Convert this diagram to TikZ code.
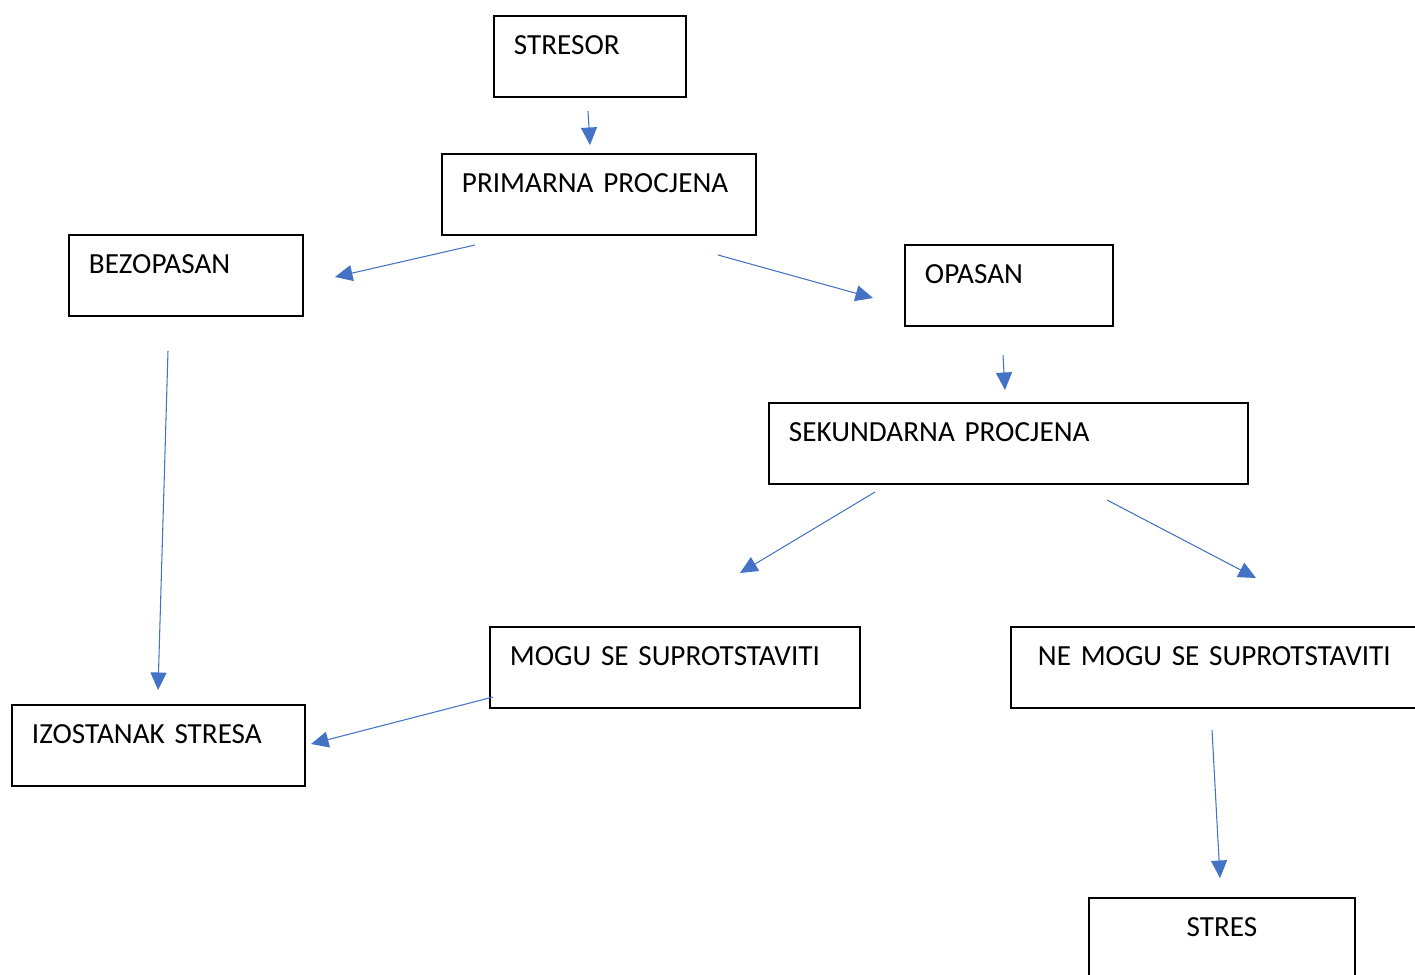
\documentclass[tikz,border=0pt]{standalone}
\usepackage{fontspec}
\setmainfont{Carlito}[WordSpace=0.75]
\usetikzlibrary{arrows.meta}
\definecolor{arrowblue}{HTML}{4472C4}
\tikzset{
  procbox/.style={draw=black, line width=1.1pt, anchor=north west, inner xsep=0.4cm, inner ysep=0pt,
    text height=0.78cm, text depth=0.84cm, align=left, font=\fontsize{16.6}{20}\selectfont},
  flowarrow/.style={draw=arrowblue, line width=0.6pt, -{Triangle[length=0.35cm,width=0.32cm]}}
}

\begin{document}
\begin{tikzpicture}[x=0.02cm,y=-0.02cm]
  \useasboundingbox (0,0) rectangle (1415,974);

  % Boxes
  \node[procbox, text width=3.04cm] (stresor) at (493,15) {STRESOR};
  \node[procbox, text width=5.48cm] (primarna) at (441,153) {PRIMARNA PROCJENA};
  \node[procbox, text width=3.88cm] (bezopasan) at (68,234) {BEZOPASAN};
  \node[procbox, text width=3.36cm] (opasan) at (904,244) {OPASAN};
  \node[procbox, text width=8.78cm] (sekundarna) at (768,402) {SEKUNDARNA PROCJENA};
  \node[procbox, text width=6.6cm] (mogu) at (489,626) {MOGU SE SUPROTSTAVITI};
  \node[procbox, text width=7.6cm] (nemogu) at (1010,626) {\hspace{0.14cm}NE MOGU SE SUPROTSTAVITI};
  \node[procbox, text width=5.06cm] (izostanak) at (11,704) {IZOSTANAK STRESA};
  \node[procbox, text width=4.52cm, align=center, text depth=1.3cm] (stres) at (1088,897) {STRES};

  % Arrow ends
  \coordinate (A1) at (588,111);  \coordinate (B1) at (590,145);
  \coordinate (A2) at (475,245);  \coordinate (B2) at (335,277);
  \coordinate (A3) at (718,255);  \coordinate (B3) at (873,298);
  \coordinate (A4) at (1003,355); \coordinate (B4) at (1005,390);
  \coordinate (A5) at (875,492);  \coordinate (B5) at (740,573);
  \coordinate (A6) at (1107,500); \coordinate (B6) at (1256,578);
  \coordinate (A7) at (168,351);  \coordinate (B7) at (158,690);
  \coordinate (A8) at (493,697);  \coordinate (B8) at (311,744);
  \coordinate (A9) at (1212,730); \coordinate (B9) at (1220,878);

  % Arrows
  \foreach \from/\to in {A1/B1, A2/B2, A3/B3, A4/B4, A5/B5, A6/B6, A7/B7, A8/B8, A9/B9}
    \draw[flowarrow] (\from) -- (\to);
\end{tikzpicture}
\end{document}
